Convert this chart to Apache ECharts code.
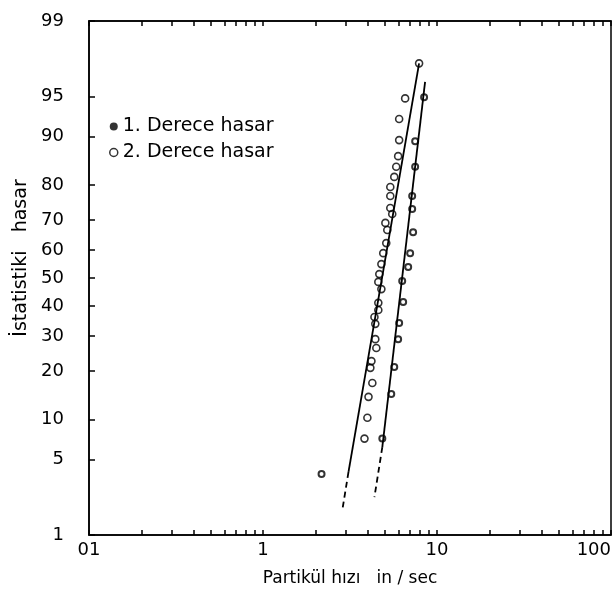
<!DOCTYPE html>
<html>
<head>
<meta charset="utf-8">
<script src="https://cdn.jsdelivr.net/npm/echarts@6/dist/echarts.min.js"></script>
<style>
    html, body {margin:0;background:#ffffff;}
    #chart {width:615px;height:608px;}
</style>
</head>
<body>
<div id="chart"></div>
<script>
    // tick labels
    var yTickLabels = [1, 5, 10, 20, 30, 40, 50, 60, 70, 80, 90, 95, 99];
    var xLabelValues = [0.1, 1, 10, 100];
    var xLabelText = ['01', '1', '10', '100'];
    var xTickValues = [0.1, 0.2, 0.3, 0.4, 0.5, 0.6, 0.7, 0.8, 0.9,
        1, 2, 3, 4, 5, 6, 7, 8, 9,
        10, 20, 30, 40, 50, 60, 70, 80, 90, 100];

    // 1. Derece hasar : hiz (in/sec), yuzde
    var hasar1X = [8.43, 7.49, 7.49, 7.20, 7.20, 7.29, 7.01, 6.83, 6.31, 6.39, 6.06, 5.98, 5.68, 5.46, 4.85, 2.17];
    var hasar1P = [94.9, 89.2, 84.3, 77.1, 73.4, 66.1, 58.9, 54.0, 48.9, 41.4, 34.2, 29.0, 21.0, 14.7, 7.3, 3.8];

    // 2. Derece hasar
    var hasar2X = [7.89, 6.56, 6.06, 6.06, 5.98, 5.83, 5.68, 5.39, 5.39, 5.39, 5.53, 5.05, 5.18, 5.11, 4.91, 4.79,
        4.66, 4.60, 4.79, 4.60, 4.60, 4.37, 4.42, 4.42, 4.48, 4.20, 4.14, 4.25, 4.04, 3.98, 3.83];
    var hasar2P = [97.4, 94.8, 92.5, 89.4, 86.5, 84.3, 82.0, 79.5, 77.1, 73.7, 71.9, 69.1, 66.8, 62.4, 58.9, 55.0,
        51.4, 48.6, 46.0, 41.1, 38.6, 36.2, 33.9, 29.0, 26.3, 22.6, 20.8, 17.1, 14.1, 10.3, 7.3];

    // fitted lines (x, yuzde)
    var fit1Solid = [[8.54, 96.2], [4.85, 6.3]];
    var fit1Dash = [[4.85, 6.3], [4.37, 2.37]];
    var fit2Solid = [[7.89, 97.4], [3.10, 3.96]];
    var fit2Dash = [[3.10, 3.96], [2.87, 1.87]];

    // normal olasilik kagidi: yuzde -> z
    function probit(p) {
        var a = [-3.969683028665376e+01, 2.209460984245205e+02, -2.759285104469687e+02, 1.383577518672690e+02, -3.066479806614716e+01, 2.506628277459239e+00];
        var b = [-5.447609879822406e+01, 1.615858368580409e+02, -1.556989798598866e+02, 6.680131188771972e+01, -1.328068155288572e+01];
        var c = [-7.784894002430293e-03, -3.223964580411365e-01, -2.400758277161838e+00, -2.549732539343734e+00, 4.374664141464968e+00, 2.938163982698783e+00];
        var d = [7.784695709041462e-03, 3.224671290700398e-01, 2.445134137142996e+00, 3.754408661907416e+00];
        var pl = 0.02425, q, r;
        if (p < pl) {
            q = Math.sqrt(-2 * Math.log(p));
            return (((((c[0] * q + c[1]) * q + c[2]) * q + c[3]) * q + c[4]) * q + c[5]) / ((((d[0] * q + d[1]) * q + d[2]) * q + d[3]) * q + 1);
        }
        if (p > 1 - pl) {
            q = Math.sqrt(-2 * Math.log(1 - p));
            return -(((((c[0] * q + c[1]) * q + c[2]) * q + c[3]) * q + c[4]) * q + c[5]) / ((((d[0] * q + d[1]) * q + d[2]) * q + d[3]) * q + 1);
        }
        q = p - 0.5;
        r = q * q;
        return (((((a[0] * r + a[1]) * r + a[2]) * r + a[3]) * r + a[4]) * r + a[5]) * q / (((((b[0] * r + b[1]) * r + b[2]) * r + b[3]) * r + b[4]) * r + 1);
    }
    function z(pct) { return probit(pct / 100); }

    var yTickZ = yTickLabels.map(z);

    function toPoints(xs, ps) {
        var out = [];
        for (var i = 0; i < xs.length; i++) out.push([xs[i], z(ps[i])]);
        return out;
    }
    function toLine(arr) {
        return arr.map(function (d) { return [d[0], z(d[1])]; });
    }

    var font = 'DejaVu Sans';
    var chart = echarts.init(document.getElementById('chart'));

    var option = {
        backgroundColor: '#ffffff',
        animation: false,
        grid: {
            left: 89, right: 4, top: 21, bottom: 73,
            outerBoundsMode: 'none',
            show: true, borderColor: '#000', borderWidth: 1.5
        },
        legend: {
            left: 104, top: 112, orient: 'vertical',
            itemGap: 7, itemWidth: 8, itemHeight: 8,
            textStyle: {fontSize: 19, color: '#000', fontFamily: font},
            data: [
                {name: '1. Derece hasar', icon: 'circle', itemStyle: {color: '#000', borderWidth: 0}},
                {name: '2. Derece hasar', icon: 'circle', itemStyle: {color: '#fff', borderColor: '#000', borderWidth: 1.5}}
            ]
        },
        xAxis: [
            {
                type: 'log', logBase: 10, min: 0.1, max: 100,
                name: 'Partikül hızı   in / sec',
                nameLocation: 'middle', nameGap: 35,
                nameTextStyle: {fontSize: 17, color: '#000', fontFamily: font},
                axisLine: {onZero: false, lineStyle: {color: '#000', width: 1.5}},
                axisTick: {inside: true, length: 5, customValues: xTickValues, lineStyle: {color: '#000', width: 1.5}},
                axisLabel: {
                    customValues: xLabelValues, margin: 6, alignMaxLabel: 'right',
                    fontSize: 18, color: '#000', fontFamily: font,
                    formatter: function (v) {
                        var best = 0;
                        for (var i = 1; i < xLabelValues.length; i++) {
                            if (Math.abs(Math.log10(xLabelValues[i]) - Math.log10(v)) < Math.abs(Math.log10(xLabelValues[best]) - Math.log10(v))) best = i;
                        }
                        return xLabelText[best];
                    }
                },
                splitLine: {show: false}
            },
            {
                type: 'log', logBase: 10, min: 0.1, max: 100, position: 'top',
                axisLine: {onZero: false, lineStyle: {color: '#000', width: 1.5}},
                axisTick: {inside: true, length: 5, customValues: xTickValues, lineStyle: {color: '#000', width: 1.5}},
                axisLabel: {show: false},
                splitLine: {show: false}
            }
        ],
        yAxis: {
            type: 'value', min: yTickZ[0], max: yTickZ[yTickZ.length - 1],
            name: 'İstatistiki   hasar',
            nameLocation: 'middle', nameGap: 56,
            nameTextStyle: {fontSize: 19, color: '#000', fontFamily: font, padding: [0, 0, 0, 40]},
            axisLine: {onZero: false, lineStyle: {color: '#000', width: 1.5}},
            axisTick: {inside: true, length: 6, customValues: yTickZ, lineStyle: {color: '#000', width: 1.5}},
            axisLabel: {
                customValues: yTickZ, margin: 25,
                fontSize: 18, color: '#000', fontFamily: font,
                formatter: function (v) {
                    var best = 0;
                    for (var i = 1; i < yTickZ.length; i++) {
                        if (Math.abs(yTickZ[i] - v) < Math.abs(yTickZ[best] - v)) best = i;
                    }
                    return String(yTickLabels[best]);
                }
            },
            splitLine: {show: false}
        },
        series: [
            {
                name: 'fit1', type: 'line', data: toLine(fit1Solid), symbol: 'none',
                lineStyle: {color: '#000', width: 1.8}, z: 3
            },
            {
                name: 'fit1d', type: 'line', data: toLine(fit1Dash), symbol: 'none',
                lineStyle: {color: '#000', width: 1.8, type: [6, 4]}, z: 3
            },
            {
                name: 'fit2', type: 'line', data: toLine(fit2Solid), symbol: 'none',
                lineStyle: {color: '#000', width: 1.8}, z: 3
            },
            {
                name: 'fit2d', type: 'line', data: toLine(fit2Dash), symbol: 'none',
                lineStyle: {color: '#000', width: 1.8, type: [6, 4]}, z: 3
            },
            {
                name: '1. Derece hasar', type: 'scatter', data: toPoints(hasar1X, hasar1P),
                symbol: 'circle', symbolSize: 6,
                itemStyle: {color: 'rgba(0,0,0,0)', borderColor: '#000', borderWidth: 2}, z: 4
            },
            {
                name: '2. Derece hasar', type: 'scatter', data: toPoints(hasar2X, hasar2P),
                symbol: 'circle', symbolSize: 7,
                itemStyle: {color: 'rgba(0,0,0,0)', borderColor: '#000', borderWidth: 1.6}, z: 4
            }
        ]
    };

    chart.setOption(option);
</script>
</body>
</html>
